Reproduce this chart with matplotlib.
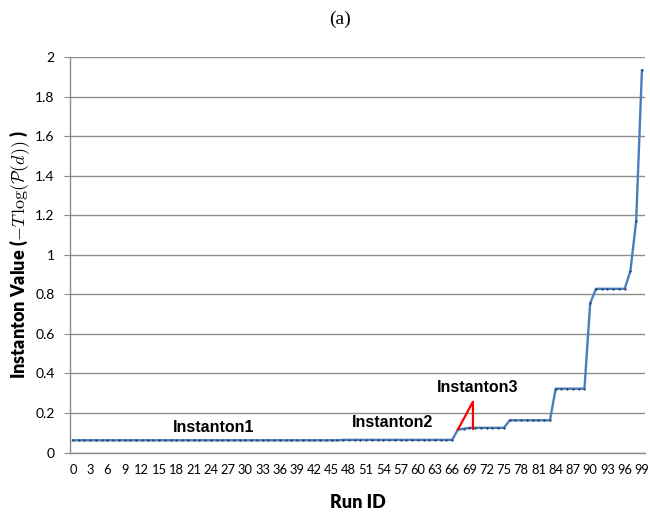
import numpy as np
import matplotlib
matplotlib.use("Agg")
import matplotlib.pyplot as plt

plt.rcParams['mathtext.fontset'] = 'cm'

# run ids and the instanton value
run_id = list(range(100))
values = ([0.062] * 47 + [0.064] * 20 +          # runs 0..66
          [0.117, 0.120] + [0.125] * 7 +         # runs 67..75
          [0.163] * 8 + [0.323] * 6 +            # runs 76..89
          [0.755] + [0.828] * 6 +                # runs 90..96
          [0.919, 1.172, 1.933])                 # runs 97..99

# red marker triangle near instanton3
tri_x = [67, 69.6, 69.6]
tri_y = [0.117, 0.257, 0.12]

# label text and where it sits (run id, value)
labels = ['Instanton1', 'Instanton2', 'Instanton3']
label_x = [24.5, 55.7, 70.4]
label_y = [0.129, 0.154, 0.33]

yticks = [0, 0.2, 0.4, 0.6, 0.8, 1, 1.2, 1.4, 1.6, 1.8, 2]
xticks = run_id[::3]

fig = plt.figure(figsize=(6.5, 5.14), dpi=100)
ax = fig.add_axes([0.1077, 0.1196, 0.992 - 0.1077, 0.889 - 0.1196])

ax.plot(run_id, values, color='#4A7EBB', lw=1.7, marker='o', ms=0.6,
        mfc='#1F3A5F', mec='#1F3A5F', zorder=3)
ax.plot(tri_x, tri_y, color='#FF0000', lw=1.6, zorder=4)

for t, x, y in zip(labels, label_x, label_y):
    ax.text(x, y, t, ha='center', va='center', fontsize=11.5,
            fontweight='bold', family='Liberation Sans', zorder=5)

ax.set_xlim(-0.5, 99.5)
ax.set_ylim(0, 2)
ax.set_yticks(yticks)
ax.set_yticklabels(['%g' % v for v in yticks])
ax.set_xticks(xticks)
ax.set_xticklabels([str(v) for v in xticks])
ax.grid(axis='y', color='#8C8C8C', lw=1)
ax.set_axisbelow(True)

for s in ['top', 'right']:
    ax.spines[s].set_visible(False)
for s in ['left', 'bottom']:
    ax.spines[s].set_color('#8C8C8C')
    ax.spines[s].set_linewidth(1)

ax.tick_params(axis='y', length=4, color='#8C8C8C', pad=7, labelsize=10)
ax.tick_params(axis='x', length=0, pad=8, labelsize=9.3)
for lab in ax.get_xticklabels() + ax.get_yticklabels():
    lab.set_family('Lato')

ax.set_xlabel('Run ID', fontsize=13, fontweight='heavy', family='Lato', labelpad=13)
ax.set_ylabel(r'Instanton Value ($-T\,\log(\mathcal{P}(d))$ )', fontsize=13,
              fontweight='heavy', family='Lato', labelpad=2)

fig.text(0.523, 0.962, '(a)', ha='center', va='center', fontsize=14,
         family='Liberation Serif')

fig.savefig('out.png', dpi=100)
